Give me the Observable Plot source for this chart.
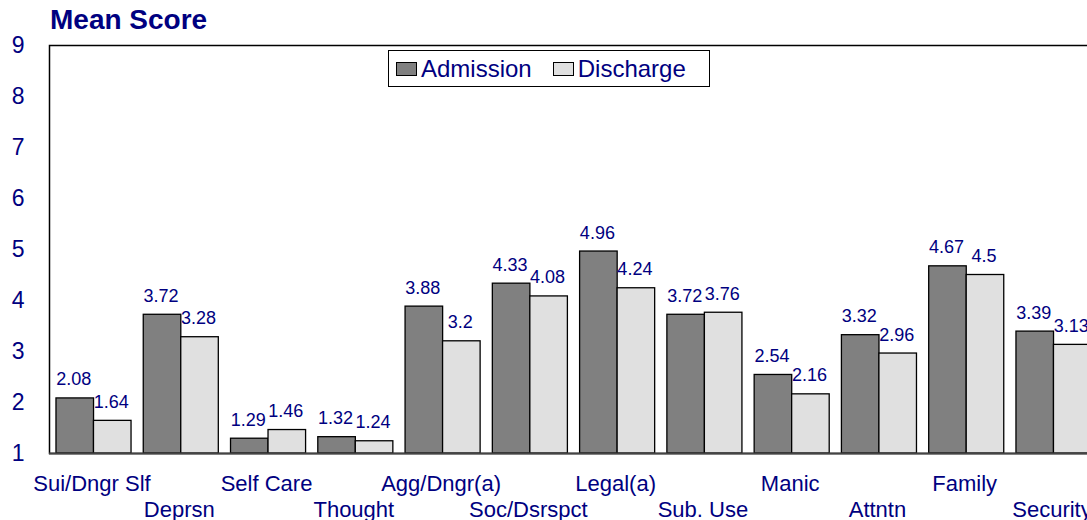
<!DOCTYPE html>
<html>
<head>
<meta charset="utf-8">
<script src="https://cdn.jsdelivr.net/npm/d3@7"></script>
<script src="https://cdn.jsdelivr.net/npm/@observablehq/plot@0.6"></script>
<style>
  html, body { margin: 0; padding: 0; background: white; overflow: hidden; }
  body { position: relative; width: 1087px; height: 520px; font-family: "Liberation Sans", Arial, sans-serif; }
  #title { height: 40px; line-height: 40px; padding-left: 50px; font-size: 28px; font-weight: bold; color: #000080; }
  #legend { position: absolute; left: 388px; top: 50px; width: 320px; height: 35px; border: 1.5px solid #000; background: white;
            display: flex; align-items: center; font-size: 24px; color: #000080; box-sizing: content-box; }
  .sw { display: inline-block; width: 19px; height: 12px; border: 1.2px solid #000; margin-left: 7px; margin-right: 4px; }
  .item { display: flex; align-items: center; margin-right: 14px; }
</style>
</head>
<body>
<div id="title">Mean Score</div>
<div id="chart"></div>
<div id="legend"></div>
<script>
const categories = ["Sui/Dngr Slf", "Deprsn", "Self Care", "Thought", "Agg/Dngr(a)", "Soc/Dsrspct",
                    "Legal(a)", "Sub. Use", "Manic", "Attntn", "Family", "Security"];
const admission = [2.08, 3.72, 1.29, 1.32, 3.88, 4.33, 4.96, 3.72, 2.54, 3.32, 4.67, 3.39];
const discharge = [1.64, 3.28, 1.46, 1.24, 3.2, 4.08, 4.24, 3.76, 2.16, 2.96, 4.5, 3.13];
const series = ["Admission", "Discharge"];
const seriesColors = ["#808080", "#e0e0e0"];
const yTicks = [1, 2, 3, 4, 5, 6, 7, 8, 9];

const navy = "#000080";
const half = 37.5;

const adm = categories.map((c, i) => ({category: c, series: "Admission", value: admission[i]}));
const dis = categories.map((c, i) => ({category: c, series: "Discharge", value: discharge[i]}));
const catRow1 = categories.filter((c, i) => i % 2 === 0);
const catRow2 = categories.filter((c, i) => i % 2 === 1);

const chart = Plot.plot({
  width: 1100,
  height: 480,
  marginTop: 5,
  marginBottom: 67,
  marginLeft: 49,
  marginRight: 2,
  style: {fontFamily: "Liberation Sans, Arial, sans-serif", maxWidth: "none", background: "white", overflow: "visible"},
  x: {domain: categories, paddingInner: 0.14, paddingOuter: 0.08, round: false, axis: null, label: null},
  y: {domain: [1, 9], axis: null, label: null},
  color: {domain: series, range: seriesColors},
  marks: [
    Plot.frame({stroke: "#000", strokeWidth: 1.5}),
    Plot.barY(adm, {x: "category", y1: 1, y2: "value", fill: "series", stroke: "#000", strokeWidth: 1.3, insetRight: half}),
    Plot.barY(dis, {x: "category", y1: 1, y2: "value", fill: "series", stroke: "#000", strokeWidth: 1.3, insetLeft: half}),
    Plot.ruleY([1], {stroke: "#444", strokeWidth: 2.2}),
    Plot.text(adm, {x: "category", y: "value", text: d => String(d.value), dx: -half / 2 - 1.5, dy: -13, lineAnchor: "bottom", fill: navy, fontSize: 18}),
    Plot.text(dis, {x: "category", y: "value", text: d => String(d.value), dx: half / 2 - 1.5, dy: -13, lineAnchor: "bottom", fill: navy, fontSize: 18}),
    Plot.text(catRow1, {x: d => d, text: d => d, frameAnchor: "bottom", dx: -2, dy: 37, lineAnchor: "bottom", fill: navy, fontSize: 22}),
    Plot.text(catRow2, {x: d => d, text: d => d, frameAnchor: "bottom", dx: -2, dy: 63, lineAnchor: "bottom", fill: navy, fontSize: 22}),
    Plot.axisY({ticks: yTicks, tickSize: 0, tickPadding: 25, fontSize: 23, color: navy, label: null, tickFormat: d => String(d)})
  ]
});
document.getElementById("chart").appendChild(chart);

const legend = document.getElementById("legend");
series.forEach((s, i) => {
  const item = document.createElement("span");
  item.className = "item";
  const sw = document.createElement("span");
  sw.className = "sw";
  sw.style.background = seriesColors[i];
  item.appendChild(sw);
  const t = document.createElement("span");
  t.textContent = s;
  item.appendChild(t);
  legend.appendChild(item);
});
</script>
</body>
</html>
